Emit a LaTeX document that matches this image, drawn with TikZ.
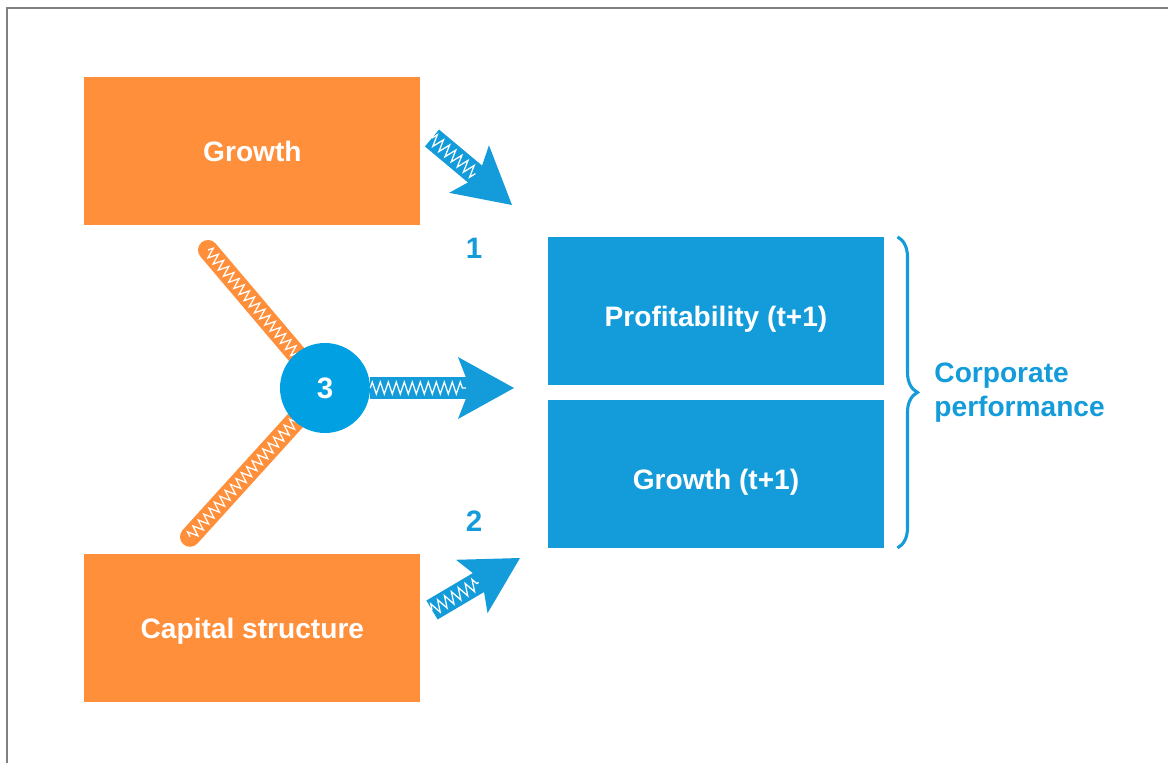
\documentclass[tikz,border=0pt]{standalone}
\usepackage{fontspec}
\setmainfont{Liberation Sans}
\usepackage{tikz}
\definecolor{perforange}{RGB}{255,143,58}
\definecolor{perfblue}{RGB}{19,155,218}
\definecolor{hubblue}{RGB}{0,160,226}
\usetikzlibrary{arrows.meta,positioning,calc,backgrounds,decorations.pathmorphing,decorations.pathreplacing}

\begin{document}
\begin{tikzpicture}[
  box/.style={
    minimum width=8.4cm, minimum height=3.7cm, inner sep=0pt,
    text=white, font=\bfseries\fontsize{20}{24}\selectfont
  },
  inbox/.style={box, fill=perforange, text height=14.4pt, text depth=0pt},
  outbox/.style={box, fill=perfblue, text height=22pt, text depth=0pt},
  hub/.style={circle, fill=hubblue, minimum size=2.25cm, inner sep=0pt,
    text=white, font=\bfseries\fontsize{21}{24}\selectfont},
  num/.style={text=perfblue, font=\bfseries\fontsize{21}{24}\selectfont},
  fat/.style={-{Stealth[length=1.4cm, width=1.55cm, inset=0.3cm, line width=0pt]},
    line width=0.55cm, draw=perfblue},
  hatch/.style={draw=white, line width=0.9pt, decorate,
    decoration={zigzag, amplitude=0.15cm, segment length=0.2cm}},
  bar/.style={line width=0.5cm, line cap=round, draw=perforange},
  brace/.style={draw=perfblue, line width=2.2pt, decorate,
    decoration={brace, amplitude=0.5cm}},
  perf/.style={text=perfblue, align=left, font=\bfseries\fontsize{20}{24}\selectfont}
]
\useasboundingbox (0,0) rectangle (29.2,-19.075);
% frame edges
\draw[gray, line width=1.4pt] (0.175,-19.075) -- (0.175,-0.2) -- (29.2,-0.2);

\node[inbox] (growth) at (6.31,-3.78) {Growth};
\node[inbox] (capital) at (6.31,-15.71) {Capital structure};
\node[outbox] (profit) at (17.9,-7.78) {Profitability (t+1)};
\node[outbox] (growthnext) at (17.9,-11.84) {Growth (t+1)};

\node[hub] (inter) at (8.125,-9.7) {3};
\node[num] (one) at (11.85,-6.2) {1};
\node[num] (two) at (11.85,-13.02) {2};

\coordinate (g-tail) at (10.8,-3.45);
\coordinate (g-tip) at (12.8,-5.125);
\coordinate (c-tail) at (10.8,-15.25);
\coordinate (c-tip) at (13.0,-13.95);
\coordinate (i-tip) at (12.85,-9.75);
\coordinate (g-bar) at (5.2,-6.25);
\coordinate (c-bar) at (4.75,-13.42);

% orange bars into the interaction circle
\begin{scope}[on background layer]
  \draw[bar] (g-bar) -- (inter.center);
  \draw[bar] (c-bar) -- (inter.center);
  \draw[hatch, decoration={amplitude=0.13cm}] (g-bar) -- (inter.center);
  \draw[hatch, decoration={amplitude=0.13cm}] (c-bar) -- (inter.center);
\end{scope}

% direct effects
\draw[fat] (g-tail) -- (g-tip);
\draw[hatch] (g-tail) -- ($(g-tip)!1.2cm!(g-tail)$);
\draw[fat] (c-tail) -- (c-tip);
\draw[hatch] (c-tail) -- ($(c-tip)!1.2cm!(c-tail)$);
\draw[fat] (inter.east) -- (i-tip |- inter.east);
\draw[hatch] (inter.east) -- ($(i-tip |- inter.east)!1.2cm!(inter.east)$);

% corporate performance brace
\draw[brace] ($(profit.north east)+(0.33,0)$) -- ($(growthnext.south east)+(0.33,0)$);
\coordinate (bracetip) at ($(profit.north east)!0.5!(growthnext.south east)+(1.13,0)$);
\node[perf, anchor=west] (corp) at (bracetip) {Corporate\\performance};
\end{tikzpicture}
\end{document}
